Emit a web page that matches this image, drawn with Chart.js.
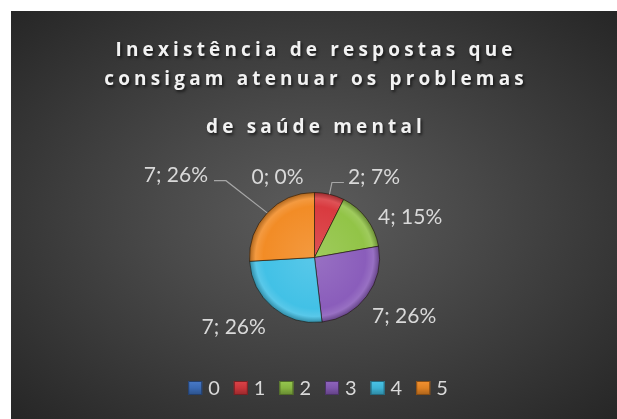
<!DOCTYPE html>
<html>
<head>
<meta charset="utf-8">
<script src="https://cdn.jsdelivr.net/npm/chart.js@4.4.1/dist/chart.umd.min.js"></script>
<style>
  html,body{margin:0;padding:0;background:#ffffff;}
  #wrap{position:absolute;left:11px;top:11px;width:606px;height:408px;
    background:radial-gradient(ellipse farthest-corner at 50% 50%, #5c5c5c 0%, #4a4a4a 35%, #262626 100%);}
  #wrap canvas{display:block;}
</style>
</head>
<body>
<div id="wrap"><canvas id="c"></canvas></div>
<script>
// ---- data ----
const categories = ['0', '1', '2', '3', '4', '5'];
const counts = [0, 2, 4, 7, 7, 7];
const titleLines = ['Inexistência de respostas que', 'consigam atenuar os problemas', 'de saúde mental'];

// ---- style ----
const sliceColors = ['#3F73C4', '#D93A3F', '#92C447', '#8A5DBB', '#42C1E6', '#F28C26'];
const labelGap = 28;
const labelNudge = [[-37, 12], [38, 9.5], [21, 14.5], [15, 2.5], [-21, -2.5], [-71, -19]];
const showLeader = [false, true, false, false, false, true];
const titleBaselines = [45, 74, 122];
const titleTargetWidth = 397;
const FONT = 'Lato, "Open Sans", sans-serif';
const TITLE_FONT = '"Open Sans", sans-serif';

function shade(hex, f) {
  const n = parseInt(hex.slice(1), 16);
  let r = (n >> 16) & 255, g = (n >> 8) & 255, b = n & 255;
  if (f >= 0) { r += (255 - r) * f; g += (255 - g) * f; b += (255 - b) * f; }
  else { r *= (1 + f); g *= (1 + f); b *= (1 + f); }
  return `rgb(${Math.round(r)},${Math.round(g)},${Math.round(b)})`;
}

function sliceFill(context) {
  const chart = context.chart;
  const base = sliceColors[context.dataIndex % sliceColors.length];
  const ca = chart.chartArea;
  if (!ca) return base;
  const cx = (ca.left + ca.right) / 2, cy = (ca.top + ca.bottom) / 2;
  const R = Math.min(ca.right - ca.left, ca.bottom - ca.top) / 2;
  const g = chart.ctx.createRadialGradient(cx, cy, 0, cx, cy, R);
  g.addColorStop(0, shade(base, 0.12));
  g.addColorStop(0.78, base);
  g.addColorStop(0.9, shade(base, 0.12));
  g.addColorStop(1, shade(base, -0.3));
  return g;
}

const decorPlugin = {
  id: 'decor',
  afterDraw(chart) {
    const ctx = chart.ctx;
    const W = chart.width;
    // title
    ctx.save();
    ctx.font = 'bold 19px ' + TITLE_FONT;
    ctx.fillStyle = '#f2f2f2';
    ctx.textAlign = 'left';
    ctx.textBaseline = 'alphabetic';
    ctx.letterSpacing = '0px';
    const raw = ctx.measureText(titleLines[0]).width;
    const sp = (titleTargetWidth - raw) / (titleLines[0].length - 1);
    ctx.letterSpacing = sp + 'px';
    ctx.shadowColor = 'rgba(0,0,0,0.65)';
    ctx.shadowBlur = 3;
    ctx.shadowOffsetX = 1.5;
    ctx.shadowOffsetY = 1.5;
    titleLines.forEach((t, i) => {
      const w = ctx.measureText(t).width - sp;
      ctx.fillText(t, W / 2 - w / 2, titleBaselines[i]);
    });
    ctx.restore();

    // data labels
    const meta = chart.getDatasetMeta(0);
    const data = chart.data.datasets[0].data;
    const total = data.reduce((a, b) => a + b, 0);
    ctx.save();
    ctx.font = '21px ' + FONT;
    ctx.textAlign = 'center';
    ctx.textBaseline = 'alphabetic';
    meta.data.forEach((arc, i) => {
      const p = arc.getProps(['x', 'y', 'startAngle', 'endAngle', 'outerRadius'], true);
      const mid = (p.startAngle + p.endAngle) / 2;
      const d = p.outerRadius + labelGap;
      const lx = p.x + Math.cos(mid) * d + labelNudge[i][0];
      const ly = p.y + Math.sin(mid) * d + labelNudge[i][1];
      const txt = `${data[i]}; ${Math.round(data[i] / total * 100)}%`;
      const tw = ctx.measureText(txt).width;
      if (showLeader[i]) {
        const ex = p.x + Math.cos(mid) * p.outerRadius;
        const ey = p.y + Math.sin(mid) * p.outerRadius;
        const yLine = ly + 6;
        let sx, hx;
        if (lx > ex) { sx = lx - tw / 2 - 4; hx = sx - 12; }
        else { sx = lx + tw / 2 + 6; hx = sx + 12; }
        ctx.beginPath();
        ctx.moveTo(sx, yLine);
        ctx.lineTo(hx, yLine);
        ctx.lineTo(ex, ey);
        ctx.strokeStyle = '#a6a6a6';
        ctx.lineWidth = 1.2;
        ctx.stroke();
      }
      ctx.fillStyle = '#d9d9d9';
      ctx.fillText(txt, lx, ly + 7.5);
    });
    ctx.restore();

    // legend
    ctx.save();
    ctx.font = '20px ' + FONT;
    ctx.textBaseline = 'alphabetic';
    ctx.textAlign = 'left';
    const box = 14, gap = 6, itemPad = 14;
    const labels = chart.data.labels;
    const widths = labels.map(l => box + gap + ctx.measureText(l).width);
    const totalW = widths.reduce((a, b) => a + b, 0) + itemPad * (labels.length - 1);
    let x = W / 2 - totalW / 2 + 4;
    const yTop = 370, yBase = 384;
    labels.forEach((l, i) => {
      const base = sliceColors[i];
      const g = ctx.createLinearGradient(0, yTop, 0, yTop + box);
      g.addColorStop(0, shade(base, 0.05));
      g.addColorStop(0.5, shade(base, -0.08));
      g.addColorStop(1, shade(base, -0.3));
      ctx.fillStyle = g;
      ctx.fillRect(x, yTop, box, box);
      ctx.strokeStyle = shade(base, -0.45);
      ctx.lineWidth = 1;
      ctx.strokeRect(x + 0.5, yTop + 0.5, box - 1, box - 1);
      ctx.fillStyle = '#d9d9d9';
      ctx.fillText(l, x + box + gap, yBase);
      x += widths[i] + itemPad;
    });
    ctx.restore();
  }
};

new Chart(document.getElementById('c'), {
  type: 'pie',
  data: {
    labels: categories,
    datasets: [{
      data: counts,
      backgroundColor: sliceFill,
      borderColor: 'rgba(30,20,10,0.6)',
      borderWidth: 1,
      hoverOffset: 0
    }]
  },
  options: {
    responsive: true,
    maintainAspectRatio: false,
    animation: false,
    layout: { padding: { left: 238, right: 237, top: 181, bottom: 96 } },
    plugins: {
      legend: { display: false },
      title: { display: false },
      tooltip: { enabled: false }
    }
  },
  plugins: [decorPlugin]
});
</script>
</body>
</html>
